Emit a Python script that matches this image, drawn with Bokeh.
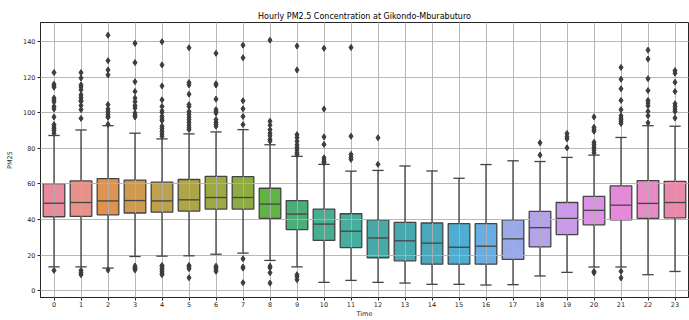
from bokeh.plotting import figure
from bokeh.models import ColumnDataSource, FixedTicker, Range1d
from bokeh.embed import file_html
from bokeh.resources import INLINE

# Hourly PM2.5 distribution summaries (hour of day 0-23)
hours = list(range(24))
q1 = [41.6, 41.8, 42.7, 43.7, 44.2, 44.8, 45.9, 45.9, 40.7, 34.4, 28.3, 24.3,
      18.6, 16.9, 15.0, 15.0, 15.0, 17.7, 24.7, 31.6, 37.1, 39.8, 40.7, 41.0]
median = [49.2, 49.6, 50.5, 50.7, 50.5, 51.1, 52.4, 52.4, 48.7, 43.1, 37.5, 33.5,
          29.7, 28.1, 26.8, 24.5, 25.1, 29.2, 35.5, 40.7, 45.2, 48.1, 49.1, 49.6]
q3 = [60.2, 61.7, 63.0, 62.2, 61.0, 62.5, 64.3, 64.1, 57.6, 50.7, 45.9, 43.3,
      39.8, 38.5, 38.1, 37.7, 37.7, 39.8, 44.6, 49.6, 53.0, 58.9, 61.9, 61.5]
whisker_low = [13.5, 13.5, 12.8, 19.3, 19.5, 19.7, 20.6, 21.2, 17.1, 13.5, 4.8, 5.9,
               4.8, 4.4, 3.7, 3.7, 3.3, 3.5, 8.4, 10.4, 13.4, 13.4, 9.1, 10.9]
whisker_high = [87.2, 90.3, 92.7, 88.5, 85.3, 88.1, 89.2, 90.5, 82.0, 75.5, 71.0, 67.2,
                67.6, 70.1, 67.3, 63.2, 70.9, 73.0, 72.6, 74.9, 76.2, 86.1, 92.7, 92.4]

# Points beyond the whiskers, per hour
outliers = [
    [122.5, 116.0, 115.0, 114.3, 108.2, 107.0, 106.0, 103.5, 102.1, 97.6, 93.3, 92.0, 91.0, 90.0, 88.5, 11.5],
    [122.5, 119.4, 115.6, 114.5, 112.8, 110.0, 108.5, 107.0, 106.3, 104.0, 101.7, 96.8, 11.5, 10.2, 9.1],
    [143.5, 129.2, 124.0, 121.2, 104.5, 102.1, 100.5, 99.0, 98.0, 97.4, 93.5, 11.7],
    [138.9, 128.1, 117.4, 111.9, 108.2, 106.2, 104.0, 102.6, 99.8, 98.5, 97.6, 14.0, 13.2, 12.5, 11.8],
    [139.8, 126.8, 115.0, 107.2, 103.5, 101.0, 100.2, 98.0, 96.5, 95.5, 92.4, 91.0, 89.5, 88.0, 86.8,
     14.3, 13.5, 12.8, 12.0, 11.0, 10.0, 9.1],
    [136.4, 116.9, 115.6, 110.4, 104.5, 103.5, 100.7, 99.0, 97.5, 96.0, 94.5, 93.0, 91.5, 90.5,
     14.3, 13.5, 12.5, 7.4],
    [133.3, 116.2, 115.5, 107.6, 101.7, 100.5, 99.8, 96.1, 94.5, 93.5, 92.4, 13.9, 13.0, 12.0, 11.0],
    [137.9, 130.8, 106.7, 102.2, 97.9, 93.3, 18.0, 13.4, 12.8, 4.6],
    [140.7, 95.2, 93.0, 90.5, 88.5, 87.0, 85.0, 84.0, 13.9, 13.0, 10.2, 4.4],
    [137.4, 124.0, 87.7, 86.0, 84.0, 82.0, 80.5, 79.0, 77.5, 76.6, 9.1, 8.0, 6.3],
    [136.1, 102.1, 86.4, 82.2, 74.7, 73.5, 72.5, 71.9],
    [136.6, 86.8, 76.6, 75.0, 73.8],
    [85.9, 71.0],
    [],
    [],
    [],
    [],
    [],
    [83.1, 76.2],
    [88.3, 86.5, 85.3, 80.3],
    [97.6, 91.8, 90.5, 89.6, 83.4, 82.0, 80.5, 79.0, 77.5, 10.9, 10.2],
    [125.4, 118.8, 113.4, 106.9, 101.7, 98.3, 97.0, 96.0, 95.0, 93.9, 11.0, 7.3],
    [135.1, 130.1, 119.1, 112.4, 106.9, 105.5, 103.9, 100.7, 98.3, 94.3],
    [123.6, 122.1, 117.1, 111.9, 105.0, 103.5, 102.0, 100.7, 97.0],
]

box_colors = [
    "#e8899c", "#e6928a", "#e0924f", "#cd9a50", "#bfa04b", "#ada547",
    "#9fa944", "#8fac44", "#62b346", "#4aad7a", "#47ae90", "#46ad9f",
    "#47aaa6", "#48aab0", "#4aa8ba", "#4eadd0", "#68aee2", "#9aa9e8",
    "#b4a2eb", "#cb9be9", "#dd8fe3", "#e58ad8", "#e88ac6", "#e88aab",
]

EDGE = "#444444"
TEXT = "#262626"
FONT = "DejaVu Sans"

box_src = ColumnDataSource(dict(
    hour=hours, q1=q1, median=median, q3=q3,
    lo=whisker_low, hi=whisker_high, color=box_colors,
))

out_x, out_y = [], []
for h, vals in zip(hours, outliers):
    out_x.extend([h] * len(vals))
    out_y.extend(vals)
out_src = ColumnDataSource(dict(x=out_x, y=out_y))

p = figure(
    width=689, height=320,
    x_range=Range1d(-0.5, 23.5), y_range=Range1d(-3.7, 150.6),
    output_backend="svg", toolbar_location=None,
    title="Hourly PM2.5 Concentration at Gikondo-Mburabuturo",
    min_border_left=40, min_border_right=1, min_border_top=22, min_border_bottom=18,
)

# boxes underneath the grid
p.vbar(x="hour", width=0.8, bottom="q1", top="q3", source=box_src,
       fill_color="color", line_color=EDGE, line_width=1.3)

# grid drawn over the boxes
for g in (p.xgrid, p.ygrid):
    g.level = "guide"
    g.grid_line_color = "#b0b0b0"
    g.grid_line_width = 1
    g.grid_line_alpha = 0.9

# whiskers, caps, medians and fliers on top
r = p.segment(x0="hour", x1="hour", y0="q3", y1="hi", source=box_src, line_color=EDGE, line_width=1.3)
r.level = "annotation"
r = p.segment(x0="hour", x1="hour", y0="lo", y1="q1", source=box_src, line_color=EDGE, line_width=1.3)
r.level = "annotation"
cap_half = 0.21
cap_src = ColumnDataSource(dict(
    x0=[h - cap_half for h in hours] * 2,
    x1=[h + cap_half for h in hours] * 2,
    y=whisker_low + whisker_high,
))
r = p.segment(x0="x0", x1="x1", y0="y", y1="y", source=cap_src, line_color=EDGE, line_width=1.3)
r.level = "annotation"
med_src = ColumnDataSource(dict(
    x0=[h - 0.4 for h in hours], x1=[h + 0.4 for h in hours], y=median,
))
r = p.segment(x0="x0", x1="x1", y0="y", y1="y", source=med_src, line_color=EDGE, line_width=1.3)
r.level = "annotation"
r = p.scatter(x="x", y="y", source=out_src, marker="diamond", size=6,
              fill_color="#3d3d3d", line_color="#3d3d3d")
r.level = "annotation"

p.title.align = "center"
p.title.text_font = FONT
p.title.text_font_size = "8px"
p.title.text_font_style = "normal"
p.title.text_color = "black"
p.title.standoff = 3

p.xaxis.ticker = FixedTicker(ticks=hours)
p.yaxis.ticker = FixedTicker(ticks=[0, 20, 40, 60, 80, 100, 120, 140])
p.xaxis.axis_label = "Time"
p.yaxis.axis_label = "PM25"

for ax in (p.xaxis[0], p.yaxis[0]):
    ax.major_label_text_font = FONT
    ax.major_label_text_font_size = "6.5px"
    ax.major_label_text_color = TEXT
    ax.axis_label_text_font = FONT
    ax.axis_label_text_font_size = "6.5px"
    ax.axis_label_text_font_style = "normal"
    ax.axis_label_text_color = TEXT
    ax.major_tick_out = 3
    ax.major_tick_in = 0
    ax.minor_tick_line_color = None
    ax.axis_line_color = TEXT
    ax.major_tick_line_color = TEXT
p.xaxis.major_label_standoff = 1
p.yaxis.major_label_standoff = 2
p.xaxis.axis_label_standoff = 0
p.yaxis.axis_label_standoff = 6

p.outline_line_color = TEXT
p.outline_line_width = 1
p.background_fill_color = "white"

open("out.html", "w").write(file_html(p, INLINE))
